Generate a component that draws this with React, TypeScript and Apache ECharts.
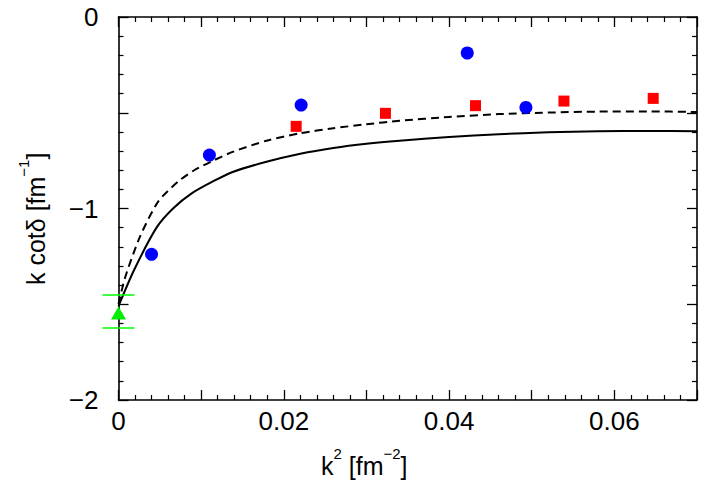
import React, { useEffect, useRef } from "react";
import * as echarts from "echarts";

const xTickLabels = ["0", "0.02", "0.04", "0.06"];
const yTickLabels = ["0", "−1", "−2"];

const solidCurve: [number, number][] = [
  [0, -1.51], [0.0019, -1.32], [0.0046, -1.1], [0.0066, -1.0], [0.0089, -0.92],
  [0.0116, -0.855], [0.0139, -0.808], [0.0179, -0.756], [0.022, -0.714],
  [0.026, -0.684], [0.03, -0.662], [0.034, -0.646], [0.04, -0.627], [0.046, -0.612],
  [0.052, -0.602], [0.058, -0.597], [0.064, -0.595], [0.07, -0.597],
];

const dashedCurve: [number, number][] = [
  [0, -1.5], [0.0008, -1.36], [0.0026, -1.147], [0.0048, -0.964], [0.0072, -0.86],
  [0.0092, -0.799], [0.0116, -0.747], [0.0139, -0.703], [0.0179, -0.646],
  [0.022, -0.607], [0.026, -0.581], [0.03, -0.56], [0.034, -0.542], [0.04, -0.522],
  [0.046, -0.507], [0.052, -0.499], [0.058, -0.494], [0.064, -0.493], [0.07, -0.496],
];

const bluePoints: [number, number][] = [
  [0.004, -1.239], [0.011, -0.721], [0.0221, -0.46], [0.0422, -0.188], [0.0493, -0.472],
];

const redPoints: [number, number][] = [
  [0.0215, -0.571], [0.0323, -0.503], [0.0432, -0.463], [0.0539, -0.439], [0.0647, -0.425],
];

const greenPoint: [number, number][] = [[0, -1.546]];
const greenError: [number, number, number][] = [[0, -1.452, -1.624]];

const FONT = "Liberation Sans, Arial, Helvetica, sans-serif";

export default function App() {
  const ref = useRef<HTMLDivElement>(null);
  useEffect(() => {
    document.body.style.margin = "0";
    const chart = echarts.init(ref.current!, null, { renderer: "svg" });
    const axisCommon = {
      axisLine: { show: true, onZero: false, lineStyle: { color: "#000", width: 1.6 } },
      axisTick: { show: true, inside: true, length: 10, lineStyle: { color: "#000", width: 1.3 } },
      minorTick: { show: true, splitNumber: 5, length: 5, lineStyle: { color: "#000", width: 1.2 } },
      splitLine: { show: false },
    };
    const xFmt = (v: number) => {
      const i = Math.round(v / 0.02);
      if (Math.abs(v - i * 0.02) < 1e-6) return xTickLabels[i] ?? "";
      return "";
    };
    const yFmt = (v: number) => {
      const i = Math.round(-v);
      if (Math.abs(v + i) < 1e-6) return yTickLabels[i] ?? "";
      return "";
    };
    const rich = {
      m: { fontSize: 25, fontFamily: FONT, fill: "#000", lineHeight: 32, verticalAlign: "bottom" },
      s: { fontSize: 15, fontFamily: FONT, fill: "#000", lineHeight: 32, verticalAlign: "top" },
    };
    chart.setOption({
      animation: false,
      grid: { left: 118.5, right: 11, top: 17, bottom: 89 },
      xAxis: [
        {
          type: "value", min: 0, max: 0.07, interval: 0.01, position: "bottom",
          ...axisCommon,
          axisLabel: { formatter: xFmt, color: "#000", fontSize: 26, fontFamily: FONT, margin: 8 },
        },
        {
          type: "value", min: 0, max: 0.07, interval: 0.01, position: "top",
          ...axisCommon, axisLabel: { show: false },
        },
      ],
      yAxis: [
        {
          type: "value", min: -2, max: 0, interval: 0.5, position: "left",
          ...axisCommon,
          axisLabel: { formatter: yFmt, color: "#000", fontSize: 26, fontFamily: FONT, margin: 20 },
        },
        {
          type: "value", min: -2, max: 0, interval: 0.5, position: "right",
          ...axisCommon, axisLabel: { show: false },
        },
      ],
      graphic: [
        {
          type: "text", left: 321, top: 446,
          style: { text: "{m|k}{s|2}{m| [fm}{s|−2}{m|]}", rich },
        },
        {
          type: "text", x: 16, y: 285, rotation: Math.PI / 2,
          style: { text: "{m|k cotδ [fm}{s|−1}{m|]}", rich },
        },
      ],
      series: [
        {
          type: "line", data: solidCurve, smooth: 0.25, showSymbol: false, symbol: "none",
          lineStyle: { color: "#000", width: 2 }, clip: true, z: 3,
        },
        {
          type: "line", data: dashedCurve, smooth: 0.25, showSymbol: false, symbol: "none",
          lineStyle: { color: "#000", width: 2, type: [8, 5] }, clip: true, z: 3,
        },
        {
          type: "scatter", data: bluePoints, symbol: "circle", symbolSize: 13,
          itemStyle: { color: "#0000ff", opacity: 1 }, z: 4,
        },
        {
          type: "scatter", data: redPoints, symbol: "rect", symbolSize: 11,
          itemStyle: { color: "#ff0000", opacity: 1 }, z: 4,
        },
        {
          type: "custom", data: greenError, clip: false, z: 4,
          renderItem: (params: any, api: any) => {
            const x = api.value(0);
            const hi = api.coord([x, api.value(1)]);
            const lo = api.coord([x, api.value(2)]);
            const w = 16;
            return {
              type: "group",
              children: [
                { type: "line", shape: { x1: hi[0] - w, y1: hi[1], x2: hi[0] + w, y2: hi[1] }, style: { stroke: "#00ff00", lineWidth: 1.5 } },
                { type: "line", shape: { x1: lo[0] - w, y1: lo[1], x2: lo[0] + w, y2: lo[1] }, style: { stroke: "#00ff00", lineWidth: 1.5 } },
              ],
            };
          },
        },
        {
          type: "scatter", data: greenPoint, symbol: "triangle", symbolSize: [15, 13], clip: false,
          itemStyle: { color: "#00ee00", opacity: 1 }, z: 4,
        },
      ],
    });
    return () => chart.dispose();
  }, []);
  return <div ref={ref} style={{ width: 708, height: 489 }} />;
}
